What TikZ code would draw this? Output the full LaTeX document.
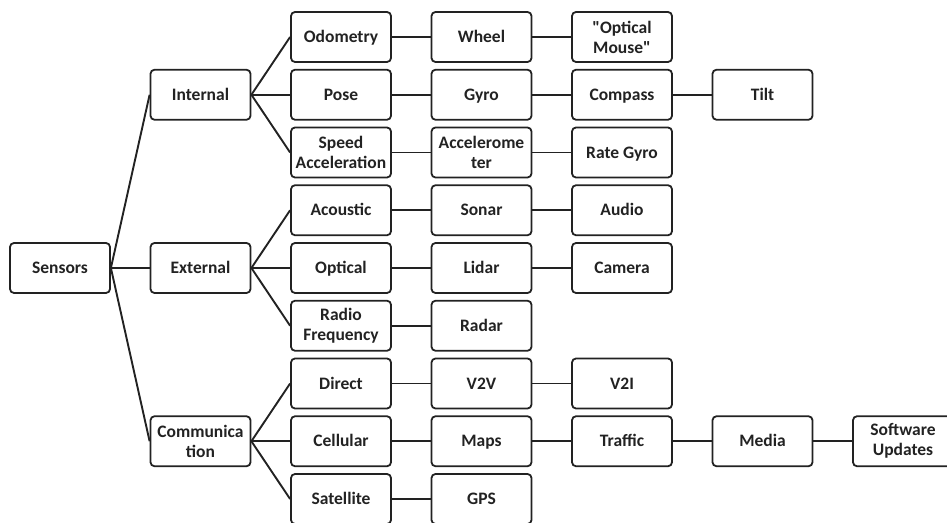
\documentclass[tikz,border=0pt]{standalone}
\usepackage{fontspec}
\setmainfont{Carlito}[Ligatures=TeXOff]
\definecolor{ink}{HTML}{222222}
\begin{document}
\begin{tikzpicture}[x=1pt,y=1pt,
  box/.style={draw=ink, rounded corners=4pt, line width=1.8pt, minimum width=100pt, minimum height=50pt,
    inner sep=0pt, align=center, text=ink, font=\fontsize{17.5}{20}\selectfont\bfseries},
  one/.style={box, text height=11.3pt, text depth=0pt},
  link/.style={draw=ink, line width=1.9pt}]
\useasboundingbox (0,0) rectangle (947,522);
\clip (0,0) rectangle (947,522);
% column centres x = 60 + 140.5 i ; row centres (image) y = 37 + 57.75 j
\node[one] (sensors) at (60,254) {Sensors};
% column 1
\node[one] (internal) at (200.5,427.25) {Internal};
\node[one] (external) at (200.5,254) {External};
\node[box] (comm) at (200.5,80.75) {Communica\\tion};
% column 2
\node[one] (odo) at (341,485) {Odometry};
\node[one] (pose) at (341,427.25) {Pose};
\node[box] (speed) at (341,369.5) {Speed\\Acceleration};
\node[one] (acou) at (341,311.75) {Acoustic};
\node[one] (optical) at (341,254) {Optical};
\node[box] (radio) at (341,196.25) {Radio\\Frequency};
\node[one] (direct) at (341,138.5) {Direct};
\node[one] (cell) at (341,80.75) {Cellular};
\node[one] (sat) at (341,23) {Satellite};
% column 3
\node[one] (wheel) at (481.5,485) {Wheel};
\node[one] (gyro) at (481.5,427.25) {Gyro};
\node[box] (accel) at (481.5,369.5) {Accelerome\\ter};
\node[one] (sonar) at (481.5,311.75) {Sonar};
\node[one] (lidar) at (481.5,254) {Lidar};
\node[one] (radar) at (481.5,196.25) {Radar};
\node[one] (v2v) at (481.5,138.5) {V2V};
\node[one] (maps) at (481.5,80.75) {Maps};
\node[one] (gps) at (481.5,23) {GPS};
% column 4
\node[box] (mouse) at (622,485) {"Optical\\Mouse"};
\node[one] (compass) at (622,427.25) {Compass};
\node[one] (rate) at (622,369.5) {Rate Gyro};
\node[one] (audio) at (622,311.75) {Audio};
\node[one] (camera) at (622,254) {Camera};
\node[one] (v2i) at (622,138.5) {V2I};
\node[one] (traffic) at (622,80.75) {Traffic};
% column 5
\node[one] (tilt) at (762.5,427.25) {Tilt};
\node[one] (media) at (762.5,80.75) {Media};
% column 6
\node[box] (soft) at (903,80.75) {Software\\Updates};
% connectors
\foreach \a/\b in {sensors/internal, sensors/external, sensors/comm,
  internal/odo, internal/pose, internal/speed,
  external/acou, external/optical, external/radio,
  comm/direct, comm/cell, comm/sat,
  odo/wheel, wheel/mouse, pose/gyro, gyro/compass, compass/tilt,
  speed/accel, accel/rate, acou/sonar, sonar/audio, optical/lidar, lidar/camera,
  radio/radar, direct/v2v, v2v/v2i, cell/maps, maps/traffic, traffic/media, media/soft,
  sat/gps}
  \draw[link] (\a.east) -- (\b.west);
\end{tikzpicture}
\end{document}
